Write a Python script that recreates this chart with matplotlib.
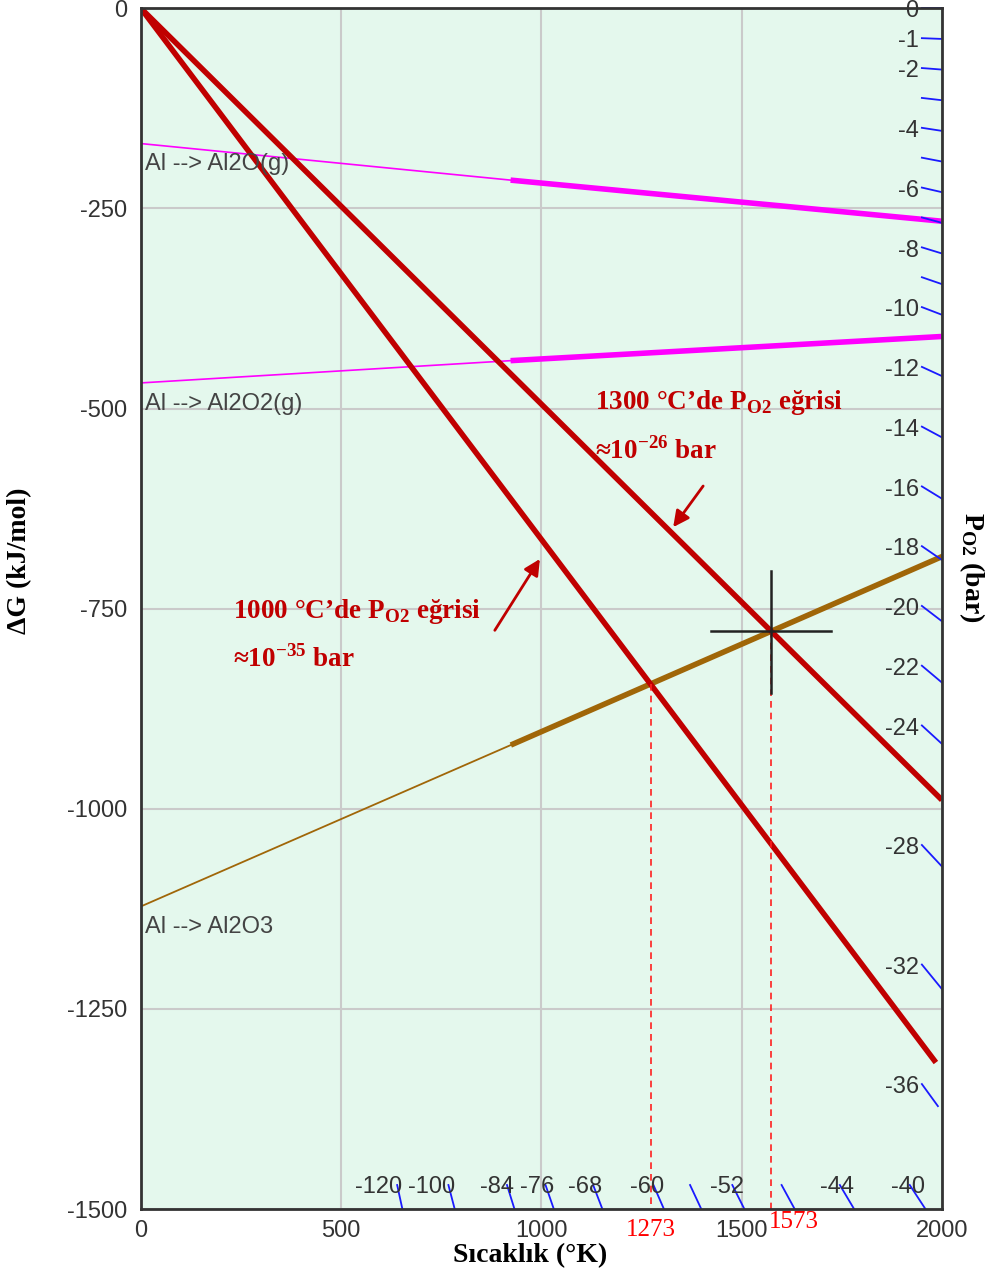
import matplotlib
matplotlib.use("Agg")
import matplotlib.pyplot as plt
import numpy as np

plt.rcParams.update({
    'font.family': ['Liberation Sans', 'DejaVu Sans'],
    'mathtext.fontset': 'custom',
    'mathtext.rm': 'Liberation Serif',
    'mathtext.bf': 'Liberation Serif:bold',
})

# reaction lines: temperature (K) and dG (kJ/mol)
al2o_T = [0, 930, 2000]
al2o_G = [-169, -215, -266]
al2o2_T = [0, 930, 2000]
al2o2_G = [-468, -440, -410]
al2o3_T = [0, 930, 2000]
al2o3_G = [-1122, -919, -685]

# P_O2 iso-lines through the origin, 1000 C and 1300 C
po2_1000_T = [0, 1985]
po2_1000_G = [0, -1317]
po2_1300_T = [0, 2000]
po2_1300_G = [0, -989]

# intersection points
cross_T = [1273, 1573]
cross_G = [-844, -778]
cross_lbl = ["1273", "1573"]

# nomograph ticks for log10(P_O2)
right_n = [0, -1, -2, -3, -4, -5, -6, -7, -8, -9, -10, -12, -14, -16, -18,
           -20, -22, -24, -28, -32, -36]
right_lbl = {0: "0", -1: "-1", -2: "-2", -4: "-4", -6: "-6", -8: "-8",
             -10: "-10", -12: "-12", -14: "-14", -16: "-16", -18: "-18",
             -20: "-20", -22: "-22", -24: "-24", -28: "-28", -32: "-32",
             -36: "-36"}
bottom_n = [-40, -44, -48, -52, -56, -60, -68, -76, -84, -100, -120]
bottom_lbl = {-40: "-40", -44: "-44", -52: "-52", -60: "-60", -68: "-68",
              -76: "-76", -84: "-84", -100: "-100", -120: "-120"}

R = 8.314e-3  # kJ/mol/K
k = R * np.log(10)

red = "#c00000"
serif = ['Liberation Serif', 'DejaVu Serif']
fig = plt.figure(figsize=(9.92, 12.74), dpi=100)
ax = fig.add_axes([0.142, 0.051, 0.8075, 0.9425])
ax.set_facecolor("#e4f8ed")
ax.set_xlim(0, 2000)
ax.set_ylim(-1500, 0)
ax.set_xticks([0, 500, 1000, 1500, 2000])
ax.set_yticks([0, -250, -500, -750, -1000, -1250, -1500])
ax.set_yticklabels(["0", "-250", "-500", "-750", "-1000", "-1250", "-1500"])
ax.tick_params(length=0, labelsize=17, labelcolor="#333333", pad=10)
ax.tick_params(axis='x', pad=8)
ax.grid(True, color="#cacaca", lw=1.5)
ax.set_axisbelow(True)
for s in ax.spines.values():
    s.set_color("#333333")
    s.set_linewidth(2)

# thin + thick parts of the oxide lines
ax.plot(al2o_T[:2], al2o_G[:2], color="#ff00ff", lw=1.2)
ax.plot(al2o_T[1:], al2o_G[1:], color="#ff00ff", lw=4)
ax.plot(al2o2_T[:2], al2o2_G[:2], color="#ff00ff", lw=1.2)
ax.plot(al2o2_T[1:], al2o2_G[1:], color="#ff00ff", lw=4)
ax.plot(al2o3_T[:2], al2o3_G[:2], color="#a06608", lw=1.3)
ax.plot(al2o3_T[1:], al2o3_G[1:], color="#a06608", lw=4)

ax.text(10, al2o_G[0] - 12, "Al --> Al2O(g)", fontsize=17, color="#444444", va='top')
ax.text(10, al2o2_G[0] - 12, "Al --> Al2O2(g)", fontsize=17, color="#444444", va='top')
ax.text(10, al2o3_G[0] - 12, "Al --> Al2O3", fontsize=17, color="#444444", va='top')

ax.plot(po2_1000_T, po2_1000_G, color=red, lw=4, solid_capstyle='butt')
ax.plot(po2_1300_T, po2_1300_G, color=red, lw=4, solid_capstyle='butt')

# dashed drops to the axis
for t, g in zip(cross_T, cross_G):
    ax.plot([t, t], [g, -1500], color="#ff2020", lw=1.2, ls=(0, (4, 3)))
ax.text(cross_T[0], -1512, cross_lbl[0], color="#ff0000", family=serif,
        fontsize=18, ha='center', va='top')
ax.text(cross_T[1] + 57, -1502, cross_lbl[1], color="#ff0000", family=serif,
        fontsize=18, ha='center', va='top')

# cross hair at the 1300 C point
ax.plot([cross_T[1] - 150, cross_T[1] + 150], [cross_G[1]] * 2, color="#222222", lw=1.8)
ax.plot([cross_T[1]] * 2, [cross_G[1] + 75, cross_G[1] - 77], color="#222222", lw=1.8)

# P_O2 nomograph ticks
for n in right_n:
    t0 = 1950
    t1 = 2000 if n > -36 else 1990
    ax.plot([t0, t1], [k * n * t0, k * n * t1], color="#1a1aff", lw=1.3, clip_on=False)
    if n in right_lbl:
        ax.text(t0 - 8, k * n * t0 - 4, right_lbl[n], fontsize=17, color="#333333",
                ha='right', va='center')
for n in bottom_n:
    t1 = -1500 / (k * n)
    t0 = -1470 / (k * n)
    ax.plot([t0, t1], [-1470, -1500], color="#1a1aff", lw=1.3)
    if n in bottom_lbl:
        ax.text(t1, -1472, bottom_lbl[n], fontsize=17, color="#333333",
                ha='right', va='center')

# annotations
ax.text(1133, -493, "1300 °C’de P$_{\\mathbf{O2}}$ eğrisi", color=red, fontsize=19.5,
        fontweight='bold', family=serif, va='center')
ax.text(1133, -552, "≈10$^{\\mathbf{-26}}$ bar", color=red, fontsize=19.5,
        fontweight='bold', family=serif, va='center')
ax.annotate("", xy=(1325, -651), xytext=(1408, -594),
            arrowprops=dict(arrowstyle="-|>", color=red, lw=2, mutation_scale=24))
ax.text(231, -754, "1000 °C’de P$_{\\mathbf{O2}}$ eğrisi", color=red, fontsize=19.5,
        fontweight='bold', family=serif, va='center')
ax.text(231, -813, "≈10$^{\\mathbf{-35}}$ bar", color=red, fontsize=19.5,
        fontweight='bold', family=serif, va='center')
ax.annotate("", xy=(1000, -685), xytext=(880, -780),
            arrowprops=dict(arrowstyle="-|>", color=red, lw=2, mutation_scale=24))

ax.set_xlabel("Sıcaklık (°K)", fontsize=20, fontweight='bold', family=serif)
ax.xaxis.set_label_coords(0.486, -0.028)
ax.set_ylabel("ΔG (kJ/mol)", fontsize=20, fontweight='bold', family=serif)
ax.yaxis.set_label_coords(-0.136, 0.54)
fig.text(0.98, 0.555, "$\\mathbf{P_{O2}}$ (bar)", rotation=270, fontsize=20,
         fontweight='bold', family=serif, ha='center', va='center')

fig.savefig("out.png", dpi=100)
